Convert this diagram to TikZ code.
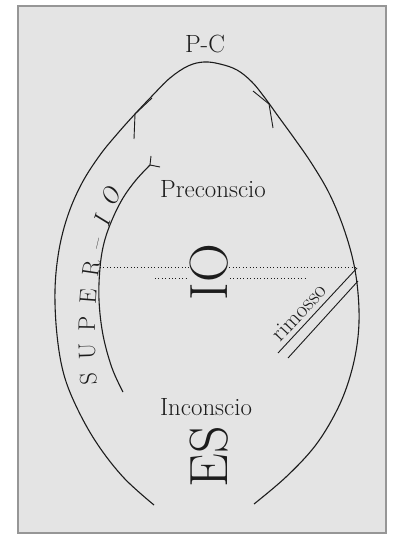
\documentclass[tikz,border=0pt]{standalone}
\usepackage{fontspec}
\usetikzlibrary{decorations.text}
\definecolor{sheet}{RGB}{228,228,228}
\definecolor{rimgray}{RGB}{150,150,150}
\definecolor{ink}{RGB}{28,28,28}

\begin{document}
\begin{tikzpicture}[x=1bp, y=-1bp,
  line/.style={draw=ink, line width=1.1bp},
  barb/.style={draw=ink, line width=0.9bp},
  dotline/.style={draw=ink, line width=0.8bp, dash pattern=on 0.8bp off 2.6bp},
  lbl/.style={font=\fontsize{25}{27}\selectfont, text=ink, inner sep=0pt},
  small/.style={font=\fontsize{23}{25}\selectfont, text=ink, inner sep=0pt},
  big/.style={font=\fontsize{54}{60}\selectfont, text=ink, inner sep=1bp,
    fill=sheet, rotate=90},
]
\useasboundingbox (0,0) rectangle (392,536);
\fill[white] (0,0) rectangle (392,536);
% sheet
\draw[fill=sheet, draw=rimgray, line width=1.5bp] (18,6) rectangle (386,533);
% outer line of the egg
\draw[line] plot[smooth, tension=0.6] coordinates {(154,505) (124,478)
  (98,445) (78,410) (64,375) (57,335) (55,290) (59,250) (68,215)
  (82,183) (100,155) (118,133) (135,114) (152,96) (170,78) (188,66)
  (204,62) (220,64) (237,70) (252,82) (265,98) (278,116) (294,138)
  (312,164) (330,195) (345,232) (355,270) (359,310) (357,345) (349,380)
  (336,412) (315,446) (286,477) (254,504)};
% barbs at the ends of P-C
\coordinate (pcl) at (135,114);
\coordinate (pcr) at (269,104);
\draw[barb] (pcl) -- ++(17,-16);
\draw[barb] (pcl) -- ++(-1,25);
\draw[barb] (pcr) -- ++(-16,-13);
\draw[barb] (pcr) -- ++(4,24);
% super-io line
\draw[line] plot[smooth, tension=0.6] coordinates {(123,392) (112,368)
  (103,335) (99,300) (100,268) (104,243) (112,220) (123,198) (136,180)
  (150,165)};
\coordinate (fork) at (150,165);
\draw[barb] (fork) -- ++(1,-9);
\draw[barb] (fork) -- ++(10,2);
% dotted boundaries
\coordinate (ul) at (100,267);
\coordinate (ur) at (357,267);
\coordinate (ll) at (155,278);
\coordinate (lr) at (307,278);
\draw[dotline] (ul) -- (ur);
\draw[dotline] (ll) -- (lr);
% rimosso
\coordinate (ra) at (357,268);
\coordinate (rb) at (278,353);
\coordinate (rc) at (358,281);
\coordinate (rd) at (288,358);
\draw[barb] (ra) -- (rb);
\draw[barb] (rc) -- (rd);
\node[small, rotate=47] (rim) at (299,312) {rimosso};
% labels
\node[lbl, anchor=base] (pc) at (205,53) {P-C};
\node[lbl, anchor=base] (pre) at (213,198) {Preconscio};
\node[lbl, anchor=base] (inc) at (206,415) {Inconscio};
\node[big] (io) at (209,272) {IO};
\node[big] (es) at (209,457) {ES};
\path[decorate, decoration={text along path,
  text={|\fontsize{24}{26}\selectfont\color{ink}|SUPER{--}|\fontsize{24}{26}\selectfont\color{ink}\itshape|IO},
  text align=fit to path}]
  (97,384) .. controls (92,320) and (94,250) .. (122,192);
\end{tikzpicture}
\end{document}
